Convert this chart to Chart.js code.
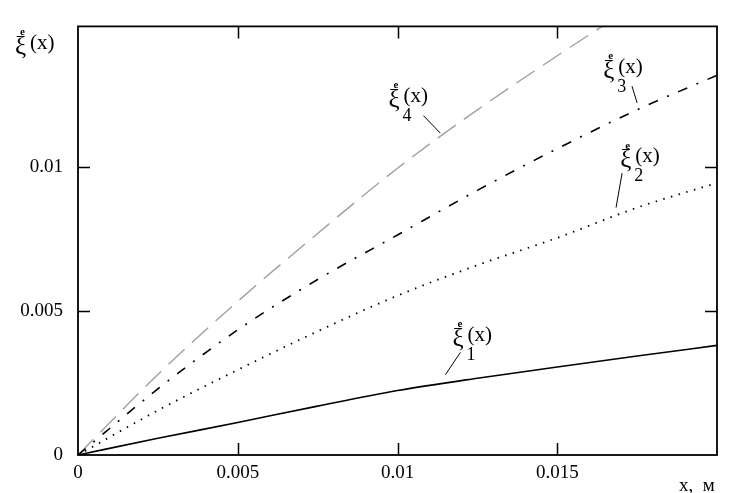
<!DOCTYPE html>
<html>
<head>
<meta charset="utf-8">
<script src="https://cdn.jsdelivr.net/npm/chart.js@4"></script>
<style>
  html, body { margin: 0; padding: 0; background: #fff; }
  .chart-container { width: 729px; height: 493px; position: relative; }
</style>
</head>
<body>
<div class="chart-container"><canvas id="xiChart"></canvas></div>
<script>
// x, м
const xValues = [0, 0.0025, 0.005, 0.0075, 0.01, 0.0125, 0.015, 0.0175, 0.02];
// ξ1..ξ4 (x)
const xi1 = [0, 0.00058, 0.00113, 0.0017, 0.00224, 0.00267, 0.00306, 0.00344, 0.00381];
const xi2 = [0, 0.00155, 0.00296, 0.0043, 0.00554, 0.0066, 0.00755, 0.0086, 0.00946];
const xi3 = [0, 0.0023, 0.00435, 0.0061, 0.00765, 0.0092, 0.01065, 0.012, 0.0132];
const xi4 = [0, 0.0028, 0.00534, 0.0077, 0.00997, 0.012, 0.01388, 0.0157, 0.0176];

const xTicks = [0, 0.005, 0.01, 0.015];
const yTicks = [0, 0.005, 0.01];
const xMax = 0.02;
const yMax = 0.0149;

// подписи кривых: индекс, точка подписи и выноска (в единицах данных)
const curveLabels = [
    { sub: '1', x: 0.01172, y: 0.00415, lx1: 0.01197, ly1: 0.00357, lx2: 0.0115, ly2: 0.00279 },
    { sub: '2', x: 0.01697, y: 0.01037, lx1: 0.01703, ly1: 0.0098, lx2: 0.01684, ly2: 0.0086 },
    { sub: '3', x: 0.01644, y: 0.01347, lx1: 0.01734, ly1: 0.01282, lx2: 0.0175, ly2: 0.01224 },
    { sub: '4', x: 0.00972, y: 0.01248, lx1: 0.01081, ly1: 0.0118, lx2: 0.01134, ly2: 0.01119 }
];

const FONT = '"Liberation Serif", "DejaVu Serif", serif';
const pts = arr => arr.map((v, i) => ({ x: xValues[i], y: v }));

// ξ с маленькой "e" сверху, затем (x) и индекс
function drawXi(ctx, x, y, sub) {
    ctx.fillStyle = '#000';
    ctx.textAlign = 'left';
    ctx.textBaseline = 'middle';
    ctx.font = '25px ' + FONT;
    ctx.fillText('ξ', x, y + 4);
    ctx.font = 'bold 11px ' + FONT;
    ctx.fillText('e', x + 5, y - 11);
    ctx.font = '21px ' + FONT;
    ctx.fillText('(x)', x + 15, y);
    if (sub) {
        ctx.font = '18px ' + FONT;
        ctx.fillText(sub, x + 14, y + 20);
    }
}

const framePlugin = {
    id: 'frame',
    afterDraw(chart) {
        const { ctx, chartArea: a, scales } = chart;
        const xs = scales.x, ys = scales.y;
        ctx.save();
        // рамка
        ctx.strokeStyle = '#000';
        ctx.lineWidth = 1.8;
        ctx.strokeRect(a.left, a.top, a.right - a.left, a.bottom - a.top);
        // засечки внутрь
        ctx.lineWidth = 1.5;
        ctx.beginPath();
        xTicks.filter(v => v > 0).forEach(v => {
            const px = Math.round(xs.getPixelForValue(v)) + 0.5;
            ctx.moveTo(px, a.bottom); ctx.lineTo(px, a.bottom - 12);
            ctx.moveTo(px, a.top); ctx.lineTo(px, a.top + 12);
        });
        yTicks.filter(v => v > 0).forEach(v => {
            const py = Math.round(ys.getPixelForValue(v)) + 0.5;
            ctx.moveTo(a.left, py); ctx.lineTo(a.left + 12, py);
            ctx.moveTo(a.right, py); ctx.lineTo(a.right - 12, py);
        });
        ctx.stroke();

        // выноски и подписи кривых
        ctx.lineWidth = 1;
        curveLabels.forEach(l => {
            ctx.beginPath();
            ctx.moveTo(xs.getPixelForValue(l.lx1), ys.getPixelForValue(l.ly1));
            ctx.lineTo(xs.getPixelForValue(l.lx2), ys.getPixelForValue(l.ly2));
            ctx.stroke();
            drawXi(ctx, xs.getPixelForValue(l.x), ys.getPixelForValue(l.y), l.sub);
        });

        // подписи осей
        drawXi(ctx, a.left - 63, a.top + 17, null);
        ctx.font = '19px ' + FONT;
        ctx.textBaseline = 'middle';
        ctx.fillText('x,  м', a.right - 38, a.bottom + 31);
        ctx.restore();
    }
};

new Chart(document.getElementById('xiChart').getContext('2d'), {
    type: 'line',
    data: {
        datasets: [
            { label: 'ξ1', data: pts(xi1), borderColor: '#000', borderWidth: 1.6 },
            { label: 'ξ2', data: pts(xi2), borderColor: '#000', borderWidth: 1.8, borderDash: [1.5, 6.5] },
            { label: 'ξ3', data: pts(xi3), borderColor: '#000', borderWidth: 1.6, borderDash: [10, 10, 2, 10] },
            { label: 'ξ4', data: pts(xi4), borderColor: '#a0a0a0', borderWidth: 1.4, borderDash: [22, 10] }
        ]
    },
    options: {
        responsive: true,
        maintainAspectRatio: false,
        animation: false,
        devicePixelRatio: 1,
        layout: { padding: { top: 16, right: 12, left: 0, bottom: 0 } },
        elements: {
            point: { radius: 0 },
            line: { cubicInterpolationMode: 'monotone', fill: false }
        },
        plugins: {
            legend: { display: false },
            tooltip: { enabled: false }
        },
        scales: {
            x: {
                type: 'linear',
                min: 0,
                max: xMax,
                afterBuildTicks: s => { s.ticks = xTicks.map(v => ({ value: v })); },
                afterFit: s => { s.height = 38; },
                grid: { display: false, drawTicks: false },
                border: { display: false },
                ticks: {
                    color: '#000',
                    padding: 7,
                    maxRotation: 0,
                    font: { family: FONT, size: 19 },
                    callback: v => String(v)
                }
            },
            y: {
                type: 'linear',
                min: 0,
                max: yMax,
                afterBuildTicks: s => { s.ticks = yTicks.map(v => ({ value: v })); },
                afterFit: s => { s.width = 78; },
                grid: { display: false, drawTicks: false },
                border: { display: false },
                ticks: {
                    color: '#000',
                    padding: 15,
                    font: { family: FONT, size: 19 },
                    callback: v => String(v)
                }
            }
        }
    },
    plugins: [framePlugin]
});
</script>
</body>
</html>
